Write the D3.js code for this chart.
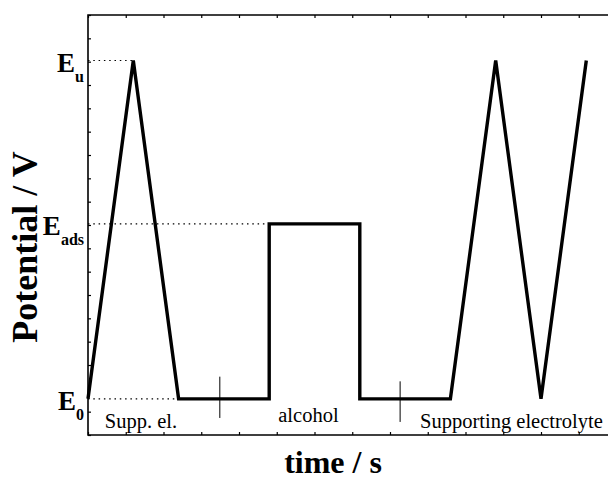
<!DOCTYPE html>
<html>
<head>
<meta charset="utf-8">
<script src="https://cdn.jsdelivr.net/npm/d3@7"></script>
<style>
  body { margin: 0; background: #fff; }
  text { font-family: "Liberation Serif", "Times New Roman", serif; fill: #000; }
</style>
</head>
<body>
<div id="chart"></div>
<script>
// potential levels (in y-tick units) and their labels
const levelNames = ['E', 'E', 'E'];
const levelSubs = ['0', 'ads', 'u'];
const levelValues = [1.55, 9.05, 16.05];
// time where each dotted guide meets the curve
const guideEnds = [2, 4, 1];

// the applied potential program: time (arbitrary) vs level index
const stepTimes = [0, 1, 2, 4, 4, 6, 6, 8, 9, 10, 11];
const stepLevels = [0, 2, 0, 0, 1, 1, 0, 0, 2, 0, 2];

// little vertical separators on the E0 plateaus
const markerTimes = [2.91, 6.89];
const markerTop = [2.5, 2.3];
const markerBottom = [0.73, 0.56];

// phase labels under the curve
const phaseLabels = ['Supp. el.', 'alcohol', 'Supporting electrolyte'];
const phaseTimes = [0.37, 4.2, 7.33];
const phaseY = [0.3, 0.55, 0.3];

const width = 608;
const height = 481;
const margin = {left: 88, top: 15, bottom: 46};

const svg = d3.select('#chart')
  .append('svg')
  .attr('width', width)
  .attr('height', height);

// 45.3 px per time unit, plot box runs off the right edge
const x = d3.scaleLinear().domain([0, 11]).range([margin.left, margin.left + 11 * 45.3]);
const y = d3.scaleLinear().domain([0, 18]).range([height - margin.bottom, margin.top]);
const xEnd = x(14);

const g = svg.append('g');

// dotted guides from the axis to the levels
g.selectAll('.guide')
  .data(levelValues)
  .enter()
  .append('line')
  .attr('class', 'guide')
  .attr('x1', x(0))
  .attr('x2', (d, i) => x(guideEnds[i]))
  .attr('y1', d => y(d))
  .attr('y2', d => y(d))
  .attr('stroke', '#000')
  .attr('stroke-width', 1.2)
  .attr('stroke-dasharray', '1.5,3.8');

// axes with inward ticks
const xTicks = d3.range(0, 14, 5 / 6);
const yTicks = d3.range(0, 19, 1);

g.append('g')
  .attr('transform', `translate(0,${y(0)})`)
  .call(d3.axisTop(x).tickValues(xTicks).tickSize(3).tickFormat(''))
  .call(a => a.select('.domain').remove());
g.append('g')
  .attr('transform', `translate(0,${y(18)})`)
  .call(d3.axisBottom(x).tickValues(xTicks).tickSize(3).tickFormat(''))
  .call(a => a.select('.domain').remove());
g.append('g')
  .attr('transform', `translate(${x(0)},0)`)
  .call(d3.axisRight(y).tickValues(yTicks).tickSize(3).tickFormat(''))
  .call(a => a.select('.domain').remove());

g.selectAll('.tick line').attr('stroke', '#000').attr('stroke-width', 1.2);

// frame
g.append('path')
  .attr('d', `M${xEnd},${y(18)}H${x(0)}V${y(0)}H${xEnd}`)
  .attr('fill', 'none')
  .attr('stroke', '#000')
  .attr('stroke-width', 1.6);

// potential program
const line = d3.line()
  .x(d => x(d[0]))
  .y(d => y(levelValues[d[1]]));

g.append('path')
  .datum(stepTimes.map((t, i) => [t, stepLevels[i]]))
  .attr('d', line)
  .attr('fill', 'none')
  .attr('stroke', '#000')
  .attr('stroke-width', 3.4)
  .attr('stroke-linejoin', 'miter');

// separators
g.selectAll('.marker')
  .data(markerTimes)
  .enter()
  .append('line')
  .attr('x1', d => x(d))
  .attr('x2', d => x(d))
  .attr('y1', (d, i) => y(markerTop[i]))
  .attr('y2', (d, i) => y(markerBottom[i]))
  .attr('stroke', '#000')
  .attr('stroke-width', 1);

// level labels
const lab = g.selectAll('.level')
  .data(levelValues)
  .enter()
  .append('text')
  .attr('x', 84)
  .attr('y', d => y(d) + 11)
  .attr('text-anchor', 'end')
  .attr('font-weight', 'bold');
lab.append('tspan')
  .attr('font-size', 27)
  .text((d, i) => levelNames[i]);
lab.append('tspan')
  .attr('font-size', 16)
  .attr('dy', 10)
  .text((d, i) => levelSubs[i]);

// phase labels
g.selectAll('.phase')
  .data(phaseLabels)
  .enter()
  .append('text')
  .attr('x', (d, i) => x(phaseTimes[i]))
  .attr('y', (d, i) => y(phaseY[i]))
  .attr('font-size', 20.5)
  .text(d => d);

// axis titles
svg.append('text')
  .attr('x', 333)
  .attr('y', 473)
  .attr('text-anchor', 'middle')
  .attr('font-weight', 'bold')
  .attr('font-size', 32)
  .text('time / s');

svg.append('text')
  .attr('transform', 'translate(37,247) rotate(-90)')
  .attr('text-anchor', 'middle')
  .attr('font-weight', 'bold')
  .attr('font-size', 36)
  .text('Potential / V');
</script>
</body>
</html>
